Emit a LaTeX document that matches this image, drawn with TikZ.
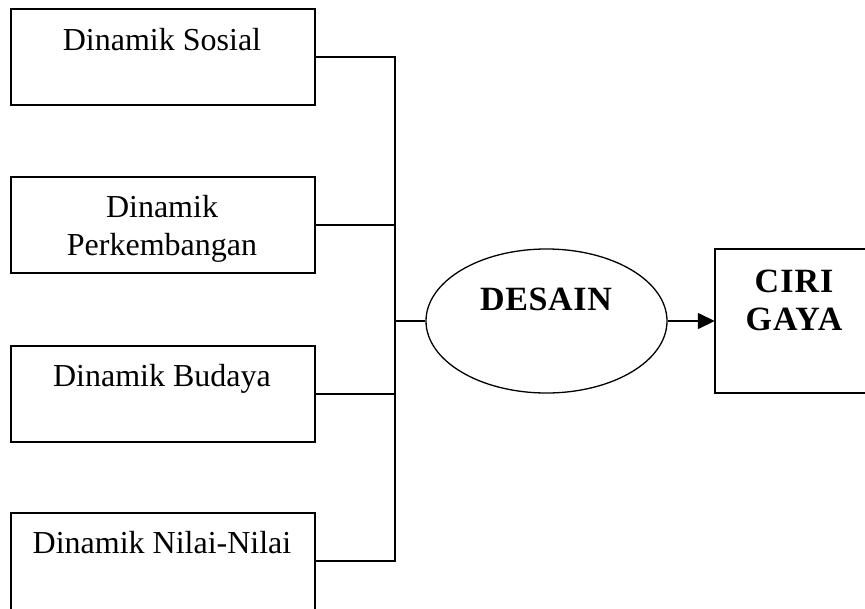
\documentclass[tikz,border=0pt]{standalone}
\usepackage{fontspec}
\setmainfont{Liberation Serif}
\usetikzlibrary{arrows.meta,shapes.geometric}
\begin{document}
\begin{tikzpicture}[x=1pt,y=-1pt,
  box/.style={draw,line width=1.5pt,minimum width=304pt,minimum height=96pt,inner sep=0pt},
  openbox/.style={line width=1.5pt},
  lbl/.style={anchor=base,inner sep=0pt,font=\fontsize{32}{38}\selectfont},
  blbl/.style={anchor=base,inner sep=0pt,font=\fontsize{34}{38}\selectfont\bfseries},
  conn/.style={line width=1.5pt}]
\useasboundingbox (0,0) rectangle (865,608);
\clip (0,0) rectangle (865,608);
\node[box] (b1) at (163,57) {};
\node[box] (b2) at (163,225) {};
\node[box] (b3) at (163,394) {};
\node[minimum width=304pt,minimum height=130pt,inner sep=0pt] (b4) at (163,578) {};
\draw[openbox] (b4.south west) -- (b4.north west) -- (b4.north east) -- (b4.south east);
\node[lbl] (t1) at (162,50) {Dinamik Sosial};
\node[lbl] (t2) at (162,217) {\begin{tabular}[t]{@{}c@{}}Dinamik\\Perkembangan\end{tabular}};
\node[lbl] (t3) at (162,386) {Dinamik Budaya};
\node[lbl] (t4) at (162,553) {Dinamik Nilai-Nilai};
\node[draw,ellipse,line width=1.3pt,minimum width=241pt,minimum height=144pt,inner sep=0pt] (d) at (546.5,321) {};
\node[blbl] (dt) at (546,310) {\addfontfeature{LetterSpace=2}DESAIN};
\node[minimum width=220pt,minimum height=144pt,inner sep=0pt] (c) at (825,321) {};
\draw[openbox] (c.north east) -- (c.north west) -- (c.south west) -- (c.south east);
\node[blbl] (ct) at (794,292) {\addfontfeature{LetterSpace=3}\begin{tabular}[t]{@{}c@{}}CIRI\\GAYA\end{tabular}};
\coordinate (j1) at (395,57);
\coordinate (j2) at (395,225);
\coordinate (j3) at (395,394);
\coordinate (j4) at (395,561);
\coordinate (jm) at (395,321);
\draw[conn] (b1.east) -- (j1) -- (j4) -- (j4 -| b4.east);
\draw[conn] (b2.east) -- (j2);
\draw[conn] (b3.east) -- (j3);
\draw[conn] (jm) -- (d.west);
\draw[conn,-{Triangle[length=17pt,width=16pt]}] (d.east) -- (c.west);
\end{tikzpicture}
\end{document}
